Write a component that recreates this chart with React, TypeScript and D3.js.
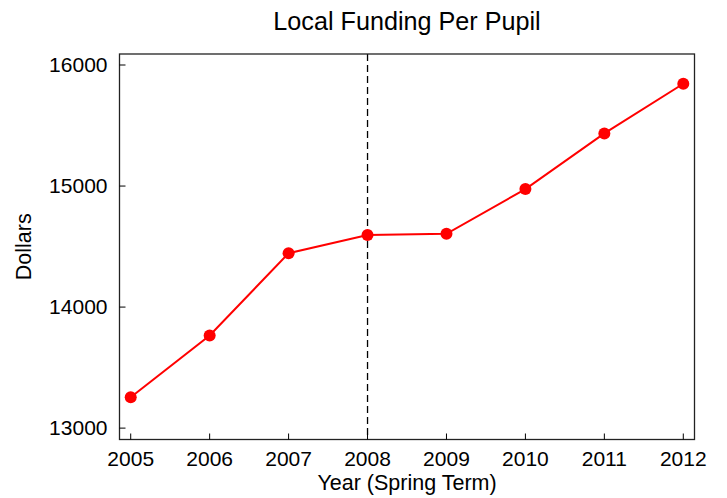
import React from "react";
import * as d3 from "d3";

const years = [2005, 2006, 2007, 2008, 2009, 2010, 2011, 2012];
const funding = [13255, 13765, 14445, 14595, 14605, 14975, 15435, 15845];
const yTicks = [13000, 14000, 15000, 16000];
const markerYear = 2008;

const W = 727, H = 498;
const left = 119.5, right = 694.5, top = 54, bottom = 439.5;

export default function App() {
  const x = d3.scaleLinear().domain([2004.858, 2012.142]).range([left, right]);
  const y = d3.scaleLinear().domain([12906, 16091]).range([bottom, top]);
  const line = d3.line<number>().x((_, i) => x(years[i])).y((d) => y(d));
  const font = "Liberation Sans, Arial, sans-serif";
  return (
    <svg width={W} height={H} style={{ position: "absolute", left: 0, top: 0 }} fontFamily={font}>
      <rect x={0} y={0} width={W} height={H} fill="white" />
      <text x={(left + right) / 2} y={30} textAnchor="middle" fontSize={25.2}>Local Funding Per Pupil</text>
      <line x1={x(markerYear)} x2={x(markerYear)} y1={top} y2={bottom} stroke="black" strokeWidth={1.3} strokeDasharray="7,4" />
      <rect x={left} y={top} width={right - left} height={bottom - top} fill="none" stroke="#222" strokeWidth={1.3} />
      {yTicks.map((t) => (
        <g key={t}>
          <line x1={left} x2={left + 6} y1={y(t)} y2={y(t)} stroke="black" />
          <text x={left - 12} y={y(t) + 7} textAnchor="end" fontSize={21}>{t}</text>
        </g>
      ))}
      {years.map((t) => (
        <g key={t}>
          <line x1={x(t)} x2={x(t)} y1={bottom} y2={bottom - 6} stroke="black" />
          <text x={x(t)} y={466} textAnchor="middle" fontSize={21}>{t}</text>
        </g>
      ))}
      <text x={(left + right) / 2} y={490} textAnchor="middle" fontSize={21.5}>Year (Spring Term)</text>
      <text transform={`translate(31,${(top + bottom) / 2}) rotate(-90)`} textAnchor="middle" fontSize={21.5}>Dollars</text>
      <path d={line(funding) || ""} fill="none" stroke="#ff0000" strokeWidth={2} />
      {funding.map((v, i) => (
        <circle key={i} cx={x(years[i])} cy={y(v)} r={6} fill="#ff0000" />
      ))}
    </svg>
  );
}
